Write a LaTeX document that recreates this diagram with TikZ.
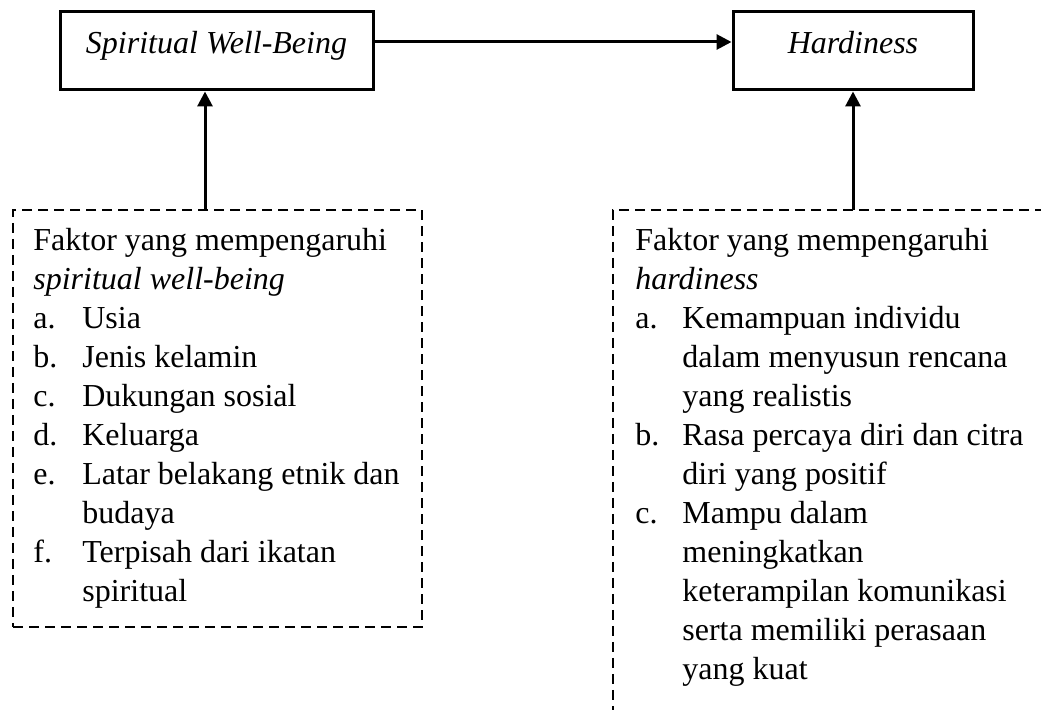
\documentclass[tikz,border=0pt]{standalone}
\usepackage{fontspec}
\setmainfont{Liberation Serif}
\usepackage{tikz}
\usetikzlibrary{arrows.meta}

\begin{document}
\begin{tikzpicture}[x=0.5pt,y=-0.5pt,
    font=\fontsize{16}{19.5}\selectfont,
    varbox/.style={draw, line width=1.5pt, inner sep=0pt, text height=21pt, text depth=18pt, font=\fontsize{16}{19.5}\selectfont\itshape},
    faktorbox/.style={draw, dash pattern=on 5pt off 3pt, line width=1.1pt},
    faktortext/.style={anchor=base west, inner sep=0pt},
    panah/.style={line width=1.5pt, -{Triangle[length=7.5pt,width=7.5pt]}}]
   % frame
   \useasboundingbox (0,0) rectangle (1041,710);

   % variables
   \node[varbox, minimum width=156.5pt] (swb) at (216.5,51) {Spiritual Well-Being};
   \node[varbox, minimum width=120pt] (hard) at (853,51) {Hardiness};

   % factor frames
   \node[faktorbox, minimum width=204.5pt, minimum height=208.5pt] (kswb) at (217.5,418.5) {};
   \coordinate (ka) at (1045,210);
   \coordinate (kb) at (613,210);
   \coordinate (kc) at (613,714);
   \draw[faktorbox] (ka) -- (kb) -- (kc);

   % factor texts
   \node[faktortext] (fswb) at (33,251) {\begin{tabular}[t]{@{}p{24.5pt}@{}l@{}}
       \multicolumn{2}{@{}l@{}}{Faktor yang mempengaruhi}\\
       \multicolumn{2}{@{}l@{}}{\textit{spiritual well-being}}\\
       a. & Usia\\
       b. & Jenis kelamin\\
       c. & Dukungan sosial\\
       d. & Keluarga\\
       e. & Latar belakang etnik dan\\
          & budaya\\
       f. & Terpisah dari ikatan\\
          & spiritual
     \end{tabular}};
   \node[faktortext] (fhard) at (635,251) {\begin{tabular}[t]{@{}p{23.5pt}@{}l@{}}
       \multicolumn{2}{@{}l@{}}{Faktor yang mempengaruhi}\\
       \multicolumn{2}{@{}l@{}}{\textit{hardiness}}\\
       a. & Kemampuan individu\\
          & dalam menyusun rencana\\
          & yang realistis\\
       b. & Rasa percaya diri dan citra\\
          & diri yang positif\\
       c. & Mampu dalam\\
          & meningkatkan\\
          & keterampilan komunikasi\\
          & serta memiliki perasaan\\
          & yang kuat
     \end{tabular}};

   % arrows
   \coordinate (pa) at (205,210);
   \draw[panah] ([yshift=4.5pt]swb.east) -- ([yshift=4.5pt]hard.west);
   \draw[panah] (pa) -- (pa |- swb.south);
   \draw[panah] (kb -| hard.south) -- (hard.south);
\end{tikzpicture}
\end{document}
